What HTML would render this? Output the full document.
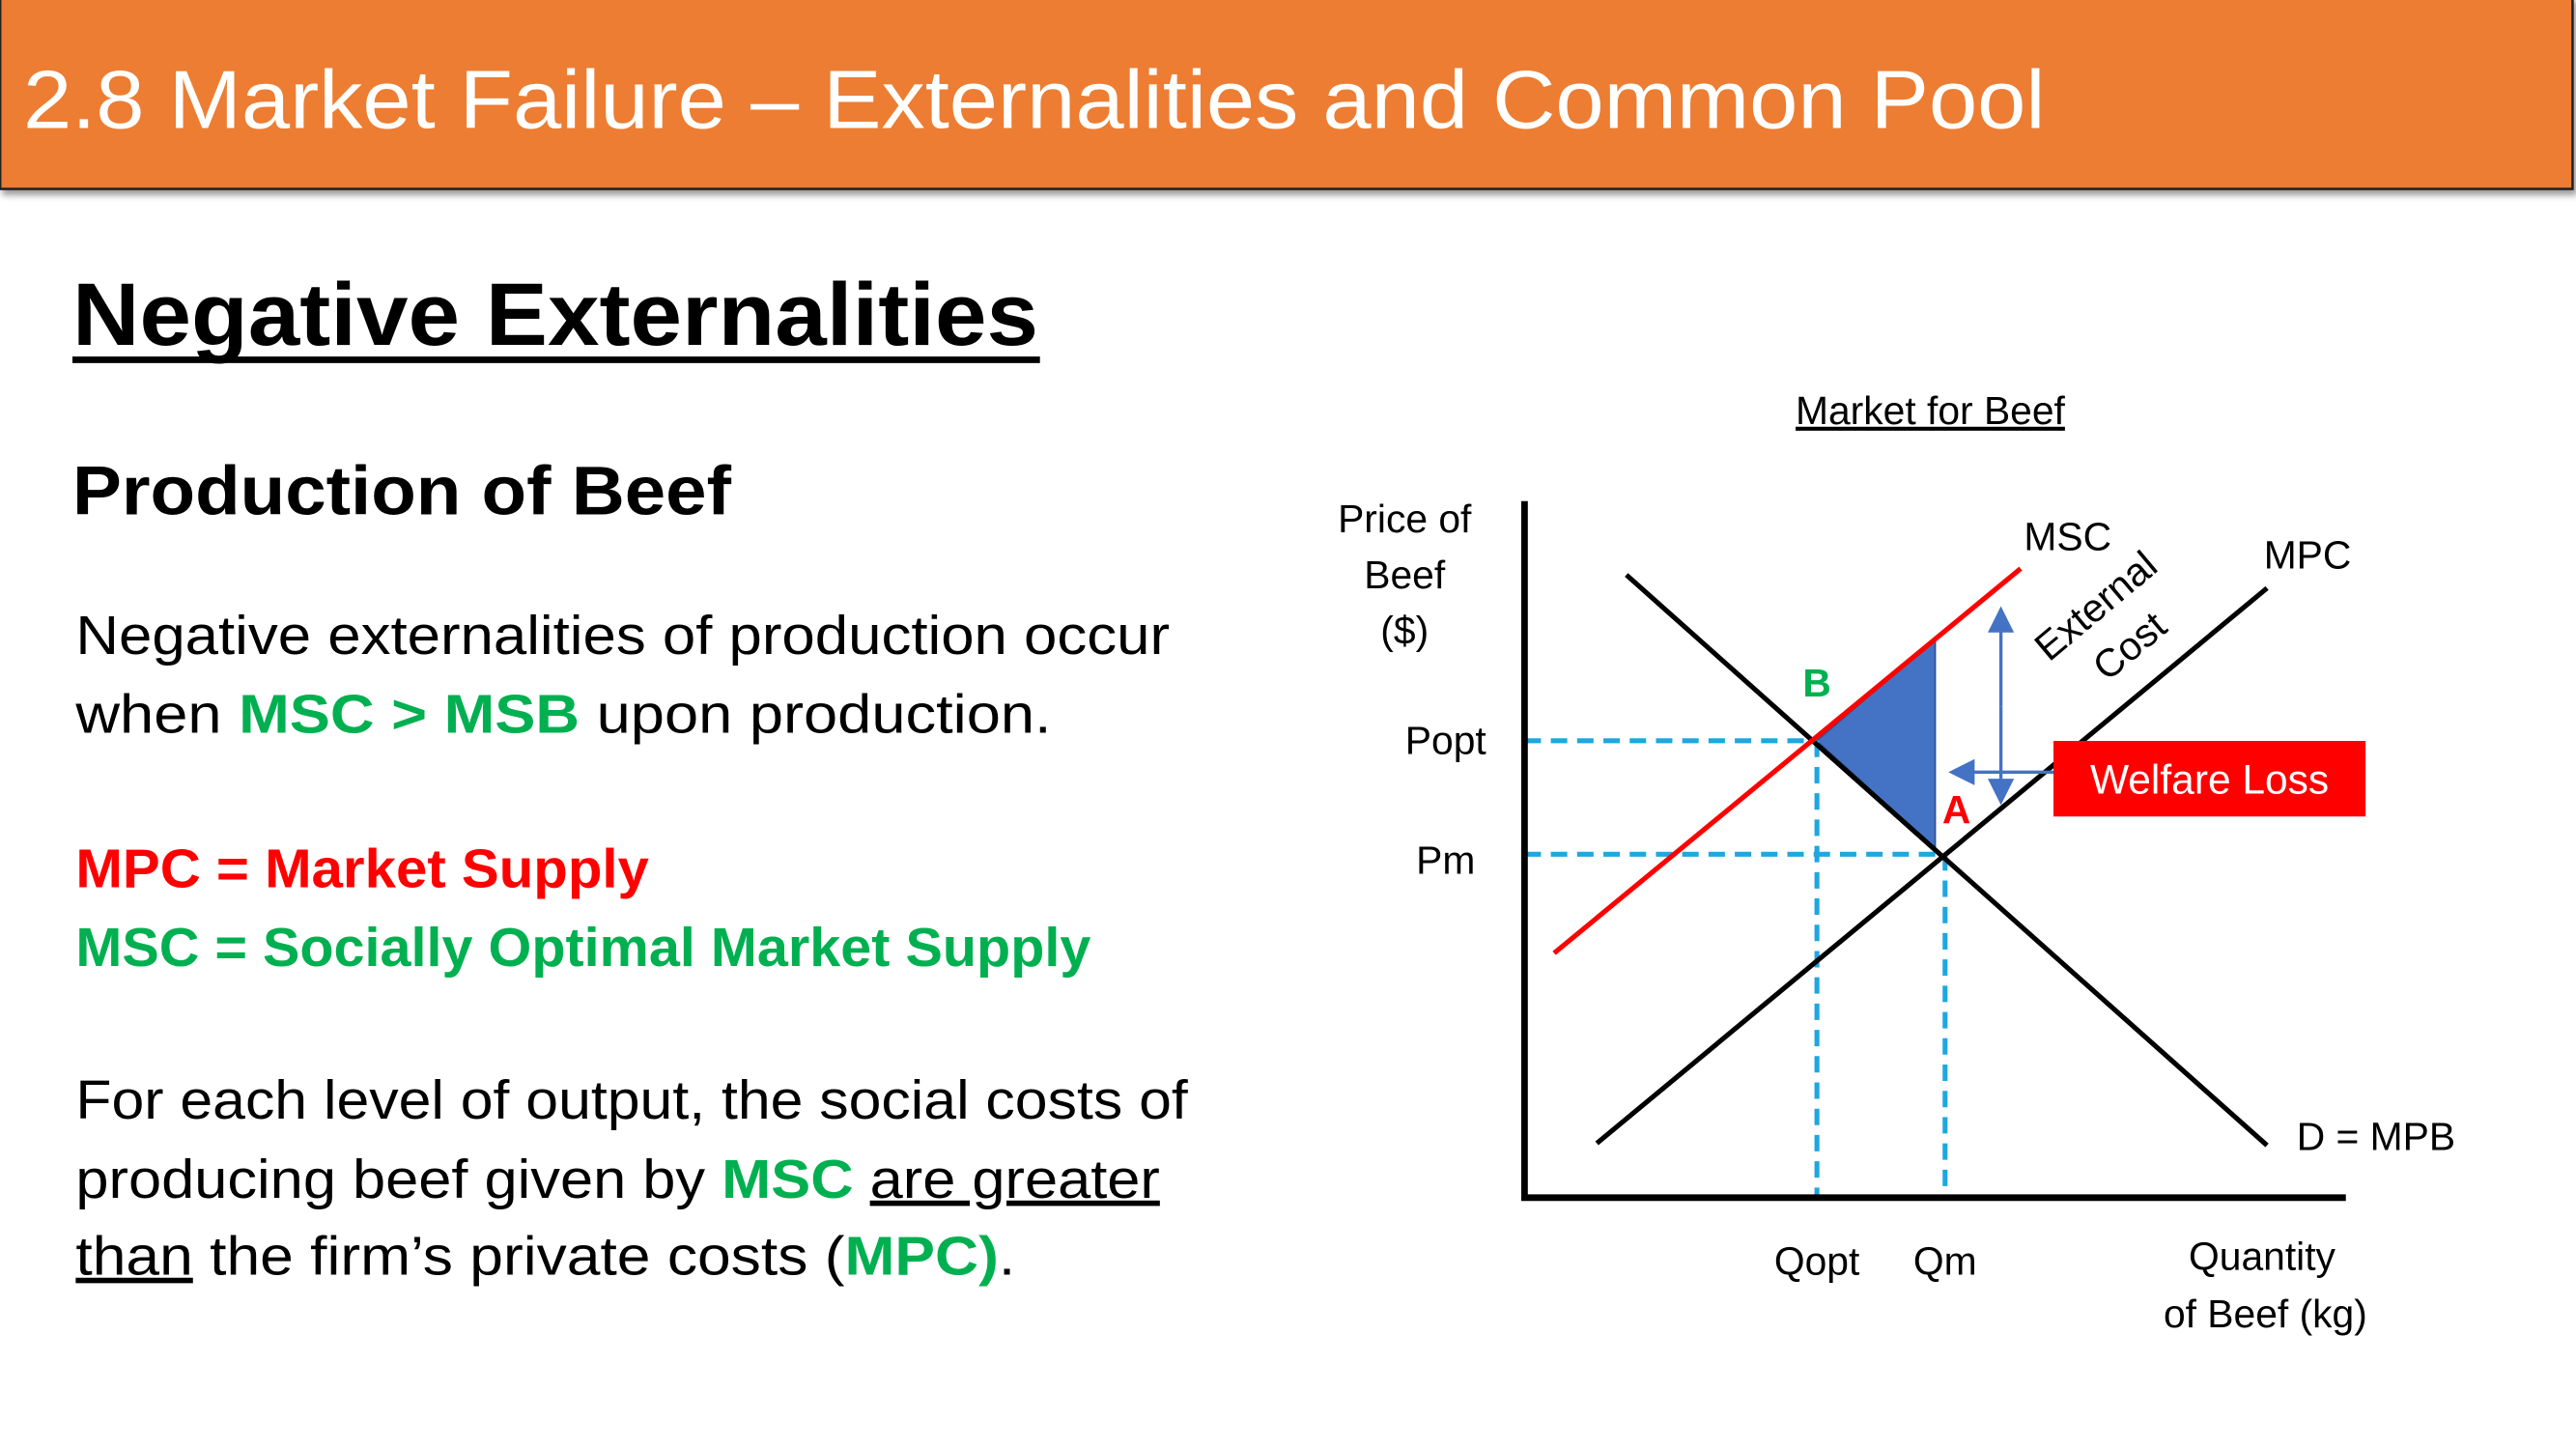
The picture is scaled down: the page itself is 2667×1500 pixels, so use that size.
<!DOCTYPE html>
<html><head><meta charset="utf-8"><style>html,body{margin:0;padding:0;background:#fff}svg{display:block}text{font-family:"Liberation Sans",sans-serif}</style></head>
<body>
<svg id="s" width="2667" height="1500" viewBox="0 0 1568 882" xmlns="http://www.w3.org/2000/svg">
<defs><filter id="sh"><feDropShadow dx="2" dy="3" stdDeviation="2" flood-opacity="0.4"/></filter>
<marker id="ah" markerWidth="8" markerHeight="8" refX="6" refY="4" orient="auto"><path d="M0,0 L8,4 L0,8 Z" fill="#4472C4"/></marker></defs>
<g>
<rect x="0" y="-2" width="1566" height="117" fill="#ED7D31" stroke="#222" stroke-width="1.5" filter="url(#sh)"/>
<text x="14" y="78" font-size="50" fill="#fff" textLength="1231" lengthAdjust="spacingAndGlyphs">2.8 Market Failure – Externalities and Common Pool</text>
</g>
<text x="44" y="210" font-size="54" font-weight="bold" textLength="588" lengthAdjust="spacingAndGlyphs">Negative Externalities</text>
<rect x="44" y="217" width="589" height="4" fill="#000"/>
<text x="44" y="313" font-size="42" font-weight="bold" textLength="401" lengthAdjust="spacingAndGlyphs">Production of Beef</text>
<g font-size="33">
<text x="46" y="398" textLength="666" lengthAdjust="spacingAndGlyphs">Negative externalities of production occur</text>
<text x="46" y="446" textLength="594" lengthAdjust="spacingAndGlyphs">when <tspan fill="#00B050" font-weight="bold">MSC &gt; MSB</tspan> upon production.</text>
<text x="46" y="540" fill="#FF0000" font-weight="bold" textLength="349" lengthAdjust="spacingAndGlyphs">MPC = Market Supply</text>
<text x="46" y="588" fill="#00B050" font-weight="bold" textLength="618" lengthAdjust="spacingAndGlyphs">MSC = Socially Optimal Market Supply</text>
<text x="46" y="681" textLength="677" lengthAdjust="spacingAndGlyphs">For each level of output, the social costs of</text>
<text x="46" y="729" textLength="660" lengthAdjust="spacingAndGlyphs">producing beef given by <tspan fill="#00B050" font-weight="bold">MSC</tspan> <tspan text-decoration="underline">are greater</tspan></text>
<text x="46" y="776" textLength="572" lengthAdjust="spacingAndGlyphs"><tspan text-decoration="underline">than</tspan> the firm’s private costs (<tspan fill="#00B050" font-weight="bold">MPC)</tspan>.</text>
</g>
<g id="chart"></g>
</svg>
<script>
const curveNames=['demand','mpc','msc'];
const curveQ=[[1.24,9.04],[0.88,9.04],[0.36,6.04]];
const curveP=[[8.94,0.75],[0.78,8.75],[3.51,9.03]];
const curveColors=['#000','#000','#FF0000'];
const eqQ=[3.56,5.12];
const eqP=[6.56,4.93];
const eqLabels=['B','A'];
const qLabels=['Qopt','Qm'];
const pLabels=['Popt','Pm'];
const lossQ=[3.56,5.0,5.0];
const lossP=[6.56,8.02,5.0];
const NS='http://www.w3.org/2000/svg';
const g=document.getElementById('chart');
const X=q=>928+q*50, Y=p=>729-p*42.4;
function mk(t,a,txt){const e=document.createElementNS(NS,t);for(const k in a)e.setAttribute(k,a[k]);if(txt!==undefined)e.textContent=txt;g.appendChild(e);return e;}
let e;
e=mk('text',{x:1175,y:258,'font-size':24,'text-anchor':'middle','text-decoration':'underline'},'Market for Beef');


e=mk('polygon',{points:lossQ.map((q,i)=>X(q)+','+Y(lossP[i])).join(' '),fill:'#4472C4',stroke:'#2F528F','stroke-width':1});


eqQ.forEach((q,i)=>{
 e=mk('line',{x1:X(0),y1:Y(eqP[i]),x2:X(q),y2:Y(eqP[i]),stroke:'#1EA7E1','stroke-width':3,'stroke-dasharray':'10,6'});
 
 
 e=mk('line',{x1:X(q),y1:Y(eqP[i]),x2:X(q),y2:Y(0),stroke:'#1EA7E1','stroke-width':3,'stroke-dasharray':'10,6'});
 
 
});
curveNames.forEach((n,i)=>{
 e=mk('line',{x1:X(curveQ[i][0]),y1:Y(curveP[i][0]),x2:X(curveQ[i][1]),y2:Y(curveP[i][1]),stroke:curveColors[i],'stroke-width':3});
 
 
});
e=mk('path',{d:'M928,305 V729 H1428',fill:'none',stroke:'#000','stroke-width':4});


eqQ.forEach((q,i)=>{
 e=mk('text',{x:X(q),y:776,'font-size':24,'text-anchor':'middle'},qLabels[i]);
 
 
 e=mk('text',{x:880,y:Y(eqP[i])+(i?12:8),'font-size':24,'text-anchor':'middle'},pLabels[i]);
 
 
 e=mk('text',{x:X(q)+(i?7:0),y:Y(eqP[i])-(i?19:27),'font-size':24,'font-weight':'bold','text-anchor':'middle',fill:i?'#FF0000':'#00B050'},eqLabels[i]);
 
 
});
[['Price of',855,324],['Beef',855,358],['($)',855,392]].forEach(t=>{
 e=mk('text',{x:t[1],y:t[2],'font-size':24,'text-anchor':'middle'},t[0]);
 
 
});
[['Quantity',1377,773],['of Beef (kg)',1379,808]].forEach(t=>{
 e=mk('text',{x:t[1],y:t[2],'font-size':24,'text-anchor':'middle'},t[0]);
 
 
});
e=mk('text',{x:1232,y:335,'font-size':24},'MSC');


e=mk('text',{x:1378,y:346,'font-size':24},'MPC');


e=mk('text',{x:1398,y:700,'font-size':24},'D = MPB');


e=mk('text',{x:0,y:0,'font-size':24,'text-anchor':'middle',transform:'translate(1281,375) rotate(-40)'});
e.innerHTML='<tspan x="0" y="0">External</tspan><tspan x="0" y="32">Cost</tspan>';


e=mk('line',{x1:1218,y1:430,x2:1218,y2:373,stroke:'#4472C4','stroke-width':2,'marker-end':'url(#ah)'});


e=mk('line',{x1:1218,y1:430,x2:1218,y2:486,stroke:'#4472C4','stroke-width':2,'marker-end':'url(#ah)'});


e=mk('line',{x1:1252,y1:470,x2:1190,y2:470,stroke:'#4472C4','stroke-width':2,'marker-end':'url(#ah)'});


e=mk('rect',{x:1250,y:451,width:190,height:46,fill:'#FF0000'});


e=mk('text',{x:1345,y:483,'font-size':25,fill:'#fff','text-anchor':'middle'},'Welfare Loss');


</script>
</body></html>
